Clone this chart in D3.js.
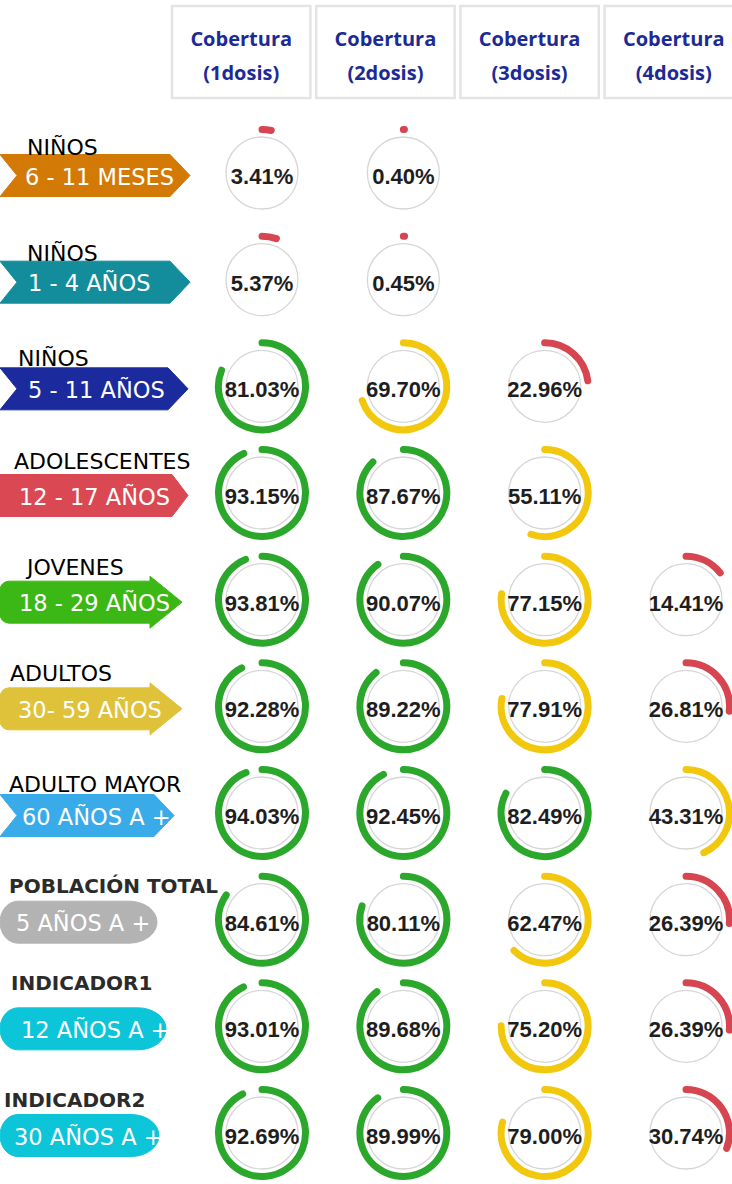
<!DOCTYPE html>
<html><head><meta charset="utf-8">
<script src="https://cdn.jsdelivr.net/npm/d3@7"></script>
<style>html,body{margin:0;padding:0;background:#fff;}svg{display:block;}</style>
</head><body>
<div id="chart"></div>
<script>
// ---------- data ----------
const headers = ["Cobertura|(1dosis)", "Cobertura|(2dosis)", "Cobertura|(3dosis)", "Cobertura|(4dosis)"];
const groups  = ["NIÑOS", "NIÑOS", "NIÑOS", "ADOLESCENTES", "JOVENES", "ADULTOS", "ADULTO MAYOR", "POBLACIÓN TOTAL", "INDICADOR1", "INDICADOR2"];
const ranges  = ["6 - 11 MESES", "1 - 4 AÑOS", "5 - 11 AÑOS", "12 - 17 AÑOS", "18 - 29 AÑOS", "30- 59 AÑOS", "60 AÑOS A +", "5 AÑOS A +", "12 AÑOS A +", "30 AÑOS A +"];
const dose1 = [3.41, 5.37, 81.03, 93.15, 93.81, 92.28, 94.03, 84.61, 93.01, 92.69];
const dose2 = [0.40, 0.45, 69.70, 87.67, 90.07, 89.22, 92.45, 80.11, 89.68, 89.99];
const dose3 = [null, null, 22.96, 55.11, 77.15, 77.91, 82.49, 62.47, 75.20, 79.00];
const dose4 = [null, null, null, null, 14.41, 26.81, 43.31, 26.39, 26.39, 30.74];
const doses = [dose1, dose2, dose3, dose4];

// ---------- style / layout ----------
const ribbonColor = ["#D37A06", "#138C9C", "#1B2A9C", "#D94853", "#3CB816", "#E0C23A", "#3AABE9", "#B3B3B3", "#0DC5D8", "#0DC5D8"];
const ribbonKind  = ["chevron", "chevron", "chevron", "tag", "arrow", "arrow", "chevron", "pill", "pill", "pill"];
const ribbonW     = [190, 190, 188, 188, 182, 182, 174, 157, 166, 159];
const titleX      = [27, 27, 18, 14, 27, 10, 9, 9, 11, 4];
const titleDy     = [0, 0, -2, -6, -6, -7, -3, -8, -18, -8];
const titleBold   = [false, false, false, false, false, false, false, true, true, true];
const labelX      = [25, 28, 28, 19, 19, 18, 22, 16, 21, 14];

const W = 732, H = 1184;
const svg = d3.select("#chart").append("svg").attr("width", W).attr("height", H);
svg.append("rect").attr("width", W).attr("height", H).attr("fill", "#fff");

const rowIdx = d3.range(groups.length);
const colIdx = d3.range(headers.length);
const y = d3.scalePoint().domain(rowIdx).range([173, 1133]);
const x = d3.scalePoint().domain(colIdx).range([262, 686]);
const hx = d3.scaleBand().domain(colIdx).range([172, 743]).paddingInner(0.04);
const angle = d3.scaleLinear().domain([0, 100]).range([0, 2 * Math.PI]);
const color = d3.scaleThreshold().domain([40, 80]).range(["#D64550", "#F2C80F", "#2BA82B"]);

// ---------- header ----------
const hg = svg.append("g").selectAll("g").data(colIdx).join("g");
hg.append("rect")
  .attr("x", d => hx(d)).attr("y", 6)
  .attr("width", hx.bandwidth()).attr("height", 92)
  .attr("fill", "#fff").attr("stroke", "#E4E4E4").attr("stroke-width", 2.5);
hg.each(function(d) {
  const parts = headers[d].split("|");
  const g = d3.select(this);
  parts.forEach((p, i) => {
    g.append("text")
      .attr("x", hx(d) + hx.bandwidth() / 2).attr("y", 46 + i * 34)
      .attr("text-anchor", "middle")
      .attr("font-family", "'Open Sans', sans-serif").attr("font-weight", 700)
      .attr("font-size", 20).attr("fill", "#1D2A95")
      .text(p);
  });
});

// ---------- ribbons ----------
function ribbonPath(kind, w, t, h) {
  const p = d3.path();
  if (kind === "chevron") {
    p.moveTo(0, t); p.lineTo(w - 20, t); p.lineTo(w, t + h / 2); p.lineTo(w - 20, t + h);
    p.lineTo(0, t + h); p.lineTo(17, t + h / 2); p.closePath();
  } else if (kind === "tag") {
    p.moveTo(0, t); p.lineTo(w - 16, t); p.lineTo(w, t + h / 2); p.lineTo(w - 16, t + h);
    p.lineTo(0, t + h); p.closePath();
  } else if (kind === "arrow") {
    const r = 9, b = w - 32;
    p.moveTo(r, t); p.lineTo(b, t); p.lineTo(b, t - 5); p.lineTo(w, t + h / 2); p.lineTo(b, t + h + 5);
    p.lineTo(b, t + h); p.lineTo(r, t + h); p.arcTo(0, t + h, 0, t + h - r, r);
    p.lineTo(0, t + r); p.arcTo(0, t, r, t, r); p.closePath();
  }
  return p.toString();
}
function pillPath(w, t, h) {
  const rl = 18, rr = 28, ry = h / 2;
  return `M${rl},${t} L${w - rr},${t} A${rr},${ry} 0 0 1 ${w - rr},${t + h} L${rl},${t + h} A${rl},${ry} 0 0 1 ${rl},${t} Z`;
}

const lg = svg.append("g").selectAll("g").data(rowIdx).join("g");
lg.append("path")
  .attr("d", i => {
    const t = y(i) + 2.5 - 21;
    return ribbonKind[i] === "pill" ? pillPath(ribbonW[i], t, 42) : ribbonPath(ribbonKind[i], ribbonW[i], t, 42);
  })
  .attr("fill", i => ribbonColor[i])
  .attr("stroke", i => ribbonColor[i]).attr("stroke-width", 1).attr("stroke-linejoin", "round");
lg.append("text")
  .attr("x", i => labelX[i]).attr("y", i => y(i) + 2.5 - 21 + 30)
  .attr("font-family", "'DejaVu Sans', sans-serif").attr("font-size", 22.5)
  .attr("fill", "#fff")
  .text(i => ranges[i]);
lg.append("text")
  .attr("x", i => titleX[i]).attr("y", i => y(i) + 2.5 - 21 + titleDy[i])
  .attr("font-family", "'DejaVu Sans', sans-serif")
  .attr("font-size", i => titleBold[i] ? 20 : 22)
  .attr("font-weight", i => titleBold[i] ? 700 : 400)
  .attr("fill", i => titleBold[i] ? "#2b2b2b" : "#000")
  .text(i => groups[i]);

// ---------- gauges ----------
const cells = [];
rowIdx.forEach(r => colIdx.forEach(c => { if (doses[c][r] != null) cells.push({ r, c, v: doses[c][r] }); }));
const gg = svg.append("g").selectAll("g").data(cells).join("g")
  .attr("transform", d => `translate(${x(d.c)},${y(d.r)})`);
gg.append("circle").attr("r", 36).attr("fill", "#fff").attr("stroke", "#D6D6D6").attr("stroke-width", 1.3);
gg.append("path")
  .attr("d", d => {
    const p = d3.path();
    p.arc(0, 0, 43.5, -Math.PI / 2, -Math.PI / 2 + angle(d.v), false);
    return p.toString();
  })
  .attr("fill", "none").attr("stroke", d => color(d.v))
  .attr("stroke-width", 7).attr("stroke-linecap", "round");
gg.append("text")
  .attr("y", 11).attr("text-anchor", "middle")
  .attr("font-family", "'Liberation Sans', Arial, sans-serif").attr("font-weight", 700)
  .attr("font-size", 22).attr("fill", "#1E1E1E")
  .text(d => d.v.toFixed(2) + "%");
</script>
</body></html>
